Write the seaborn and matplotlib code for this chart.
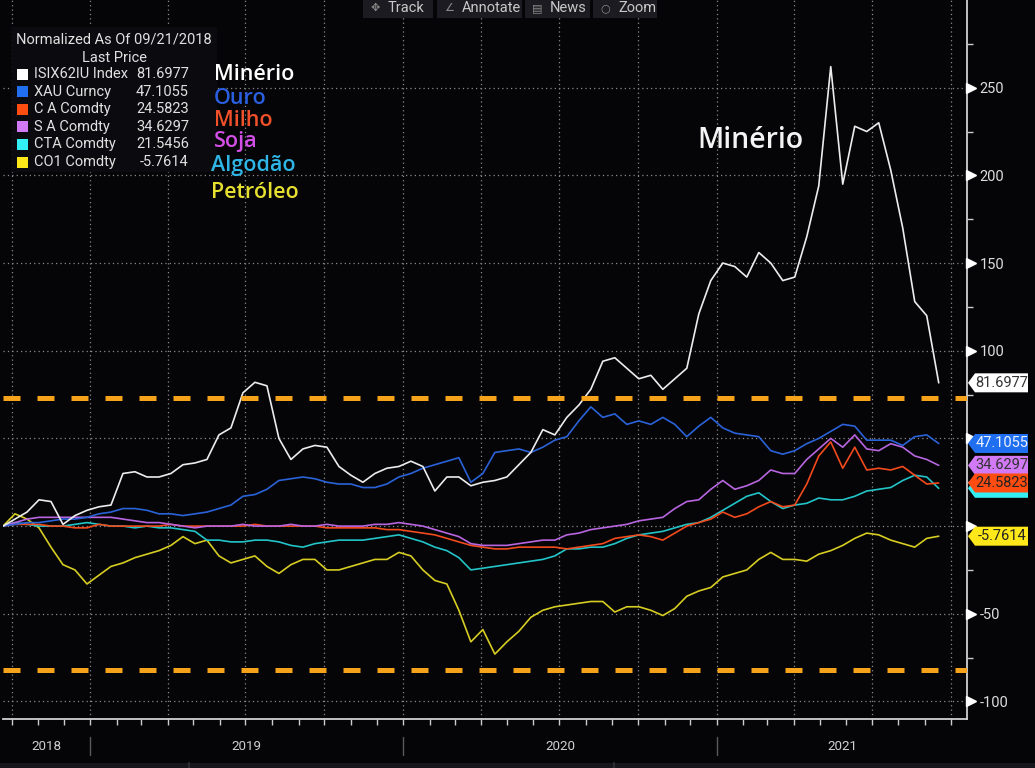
import matplotlib
matplotlib.use("Agg")
import matplotlib.pyplot as plt
import matplotlib.dates as mdates
from matplotlib import font_manager
from matplotlib.patches import Rectangle, Polygon
from matplotlib.lines import Line2D
from matplotlib.ticker import NullFormatter, FuncFormatter
import numpy as np
import pandas as pd
import seaborn as sns

# ---- data (normalized as of 09/21/2018, every 14 days) ----
dates = pd.date_range("2018-09-21", periods=79, freq="14D")

minerio = [0, 4, 8, 15, 14, 1, 6, 9, 11, 12,
           30, 31, 28, 28, 30, 35, 36, 38, 52, 56,
           76, 82, 80, 50, 38, 44, 46, 45, 34, 29,
           25, 30, 33, 34, 37, 34, 20, 28, 28, 23,
           25, 26, 28, 35, 42, 55, 52, 62, 69, 78,
           94, 96, 90, 84, 86, 78, 84, 90, 121, 140,
           150, 148, 142, 156, 150, 140, 142, 165, 194, 262,
           195, 228, 225, 230, 203, 170, 128, 120, 81.6977]
ouro = [0, 1, 2, 2, 3, 4, 4, 5, 7, 8,
        10, 10, 9, 7, 7, 6, 7, 8, 10, 12,
        17, 18, 21, 26, 27, 28, 27, 25, 24, 24,
        22, 22, 24, 28, 30, 33, 35, 37, 39, 25,
        30, 42, 43, 44, 42, 45, 49, 51, 60, 68,
        62, 64, 58, 60, 58, 62, 58, 51, 57, 62,
        56, 53, 52, 51, 43, 41, 43, 47, 50, 54,
        58, 57, 49, 49, 49, 46, 51, 52, 47.1055]
milho = [0, 1, 1, 1, 0, 0, -1, -1, 1, 0,
         0, 0, 0, 0, 1, 0, 0, 0, 0, 0,
         0, 1, 0, 0, 0, 0, 0, -1, -1, -1,
         -1, -1, -2, -2, -3, -4, -5, -7, -9, -11,
         -12, -13, -13, -12, -12, -12, -12, -13, -12, -11,
         -10, -7, -6, -5, -6, -8, -4, 0, 2, 4,
         8, 5, 7, 11, 14, 11, 12, 24, 40, 48,
         33, 45, 32, 33, 32, 34, 29, 24, 24.5823]
soja = [0, 2, 4, 5, 5, 5, 5, 5, 5, 5,
        4, 3, 2, 2, 1, 0, -1, 0, 0, 0,
        1, 0, 0, 0, 1, 0, 0, 1, 0, 0,
        0, 1, 1, 2, 1, 0, -2, -4, -6, -10,
        -11, -11, -11, -10, -9, -8, -8, -5, -4, -2,
        -1, 0, 1, 3, 4, 5, 10, 14, 15, 21,
        26, 21, 23, 26, 32, 30, 30, 38, 44, 50,
        45, 52, 44, 43, 47, 45, 40, 38, 34.6297]
algodao = [0, 2, 1, 0, 0, 0, 1, 2, 1, 0,
           0, -1, 0, -1, -1, -2, -3, -8, -8, -9,
           -9, -8, -8, -9, -11, -12, -10, -9, -8, -8,
           -8, -7, -6, -5, -7, -9, -12, -14, -18, -25,
           -24, -23, -22, -21, -20, -19, -17, -13, -13, -12,
           -12, -10, -7, -5, -4, -3, -1, 1, 2, 5,
           9, 13, 17, 19, 14, 10, 12, 13, 16, 15,
           15, 17, 20, 21, 22, 26, 29, 28, 21.5456]
petroleo = [0, 7, 4, -1, -12, -22, -25, -33, -28, -23,
            -21, -18, -16, -14, -11, -6, -10, -8, -17, -21,
            -19, -17, -23, -27, -22, -19, -19, -25, -25, -23,
            -21, -19, -19, -15, -17, -25, -31, -33, -48, -66,
            -59, -73, -66, -60, -52, -48, -46, -45, -44, -43,
            -43, -49, -46, -46, -48, -51, -47, -40, -37, -35,
            -29, -27, -25, -19, -15, -19, -19, -20, -16, -14,
            -11, -7, -4, -5, -8, -10, -12, -7, -5.7614]

tickers = ["ISIX62IU Index", "XAU Curncy", "C A Comdty", "S A Comdty", "CTA Comdty", "CO1 Comdty"]
last_price = ["81.6977", "47.1055", "24.5823", "34.6297", "21.5456", "-5.7614"]
nomes = ["Minério", "Ouro", "Milho", "Soja", "Algodão", "Petróleo"]
y_ticks = [-100, -50, 0, 50, 100, 150, 200, 250]
hidden_ticks = [0, 50]  # labels sit under the price tags
bandas = [73, -82]

line_colors = ["#ececec", "#2a62d8", "#f24a1c", "#b865e0", "#22c4c8", "#d6cc22"]
box_colors = ["#ffffff", "#1f6ff0", "#ff4d12", "#d27af5", "#33f0f5", "#ffe81a"]
name_colors = ["#ffffff", "#2a5fe0", "#f0502a", "#d24fe6", "#2fb6e6", "#e6e030"]
tag_text = ["#333333", "#eef3ff", "#222222", "#333333", None, "#222222"]

df = pd.DataFrame({"date": dates, tickers[0]: minerio, tickers[1]: ouro, tickers[2]: milho,
                   tickers[3]: soja, tickers[4]: algodao, tickers[5]: petroleo})
long = df.melt(id_vars="date", var_name="serie", value_name="valor")

# ---- style ----
W, H = 1035, 768
bg = "#050507"
sns.set_theme(style="dark", rc={"axes.facecolor": bg, "figure.facecolor": bg,
                                "savefig.facecolor": bg, "text.color": "#dddddd"})
installed = {f.name for f in font_manager.fontManager.ttflist}
narrow = "Liberation Sans Narrow" if "Liberation Sans Narrow" in installed else "Roboto"
k = 1.0 if narrow == "Liberation Sans Narrow" else 0.84
plt.rcParams["font.family"] = [narrow, "DejaVu Sans"]
brand = ["Open Sans", "DejaVu Sans"]


def fx(px):
    return px / W


def fy(py):
    return 1 - py / H


fig = plt.figure(figsize=(W / 100, H / 100), dpi=100)
ax = fig.add_axes([fx(3), fy(719), 964 / W, 719 / H])

order = [5, 4, 2, 3, 1, 0]  # white on top
sns.lineplot(data=long, x="date", y="valor", hue="serie",
             hue_order=[tickers[i] for i in order],
             palette={tickers[i]: line_colors[i] for i in range(6)},
             estimator=None, legend=False, linewidth=1.2, ax=ax)

for b in bandas:
    ax.axhline(b, color="#f7a21b", lw=3.6, dashes=(3.4, 3.4), zorder=4)

ax.set_xlim(pd.Timestamp("2018-09-21"), pd.Timestamp("2021-10-20"))
ax.set_ylim(-110, 300)
ax.set_xlabel("")
ax.set_ylabel("")

ax.xaxis.set_major_locator(mdates.MonthLocator(bymonth=[1, 4, 7, 10]))
ax.xaxis.set_minor_locator(mdates.MonthLocator())
ax.xaxis.set_major_formatter(NullFormatter())
ax.tick_params(axis="x", which="both", bottom=True, direction="out", length=4,
               color="#cccccc", width=1, labelbottom=False)

ax.yaxis.tick_right()
ax.set_yticks(y_ticks)
ax.set_yticks([v + 25 for v in range(-100, 300, 50)], minor=True)
ax.yaxis.set_major_formatter(FuncFormatter(lambda v, p: "" if v in hidden_ticks else f"{v:.0f}"))
ax.tick_params(axis="y", which="major", right=True, left=False, length=0, pad=9,
               labelsize=12.5 * k, labelcolor="#dddddd")
ax.tick_params(axis="y", which="minor", right=True, left=False, direction="out",
               length=4, color="#cccccc", width=1)

ax.grid(True, which="major", color="#8a8a8a", linestyle=(0, (1, 2.5)), linewidth=0.9)
ax.set_axisbelow(True)
for s in ["top", "left"]:
    ax.spines[s].set_visible(False)
for s in ["right", "bottom"]:
    ax.spines[s].set_visible(True)
    ax.spines[s].set_color("#d0d0d0")
    ax.spines[s].set_linewidth(1.3)

ax.plot(np.full(len(y_ticks), 1.0045), y_ticks, transform=ax.get_yaxis_transform(),
        marker=">", ms=6.5, color="white", ls="none", clip_on=False, zorder=6)

# ---- price tags on the right axis (cyan sits under the red one) ----
for i in [0, 1, 3, 4, 2, 5]:
    yc = ax.get_yaxis_transform().transform((1, float(last_price[i])))[1]
    pts = [(968, yc), (975, yc + 9.5), (1028, yc + 9.5), (1028, yc - 9.5), (975, yc - 9.5)]
    fig.add_artist(Polygon([(px / W, py / H) for px, py in pts], closed=True,
                           facecolor=box_colors[i], edgecolor="none", zorder=5))
    if tag_text[i]:
        fig.text(fx(1002), yc / H, last_price[i], color=tag_text[i], fontsize=12.5 * k,
                 ha="center", va="center", zorder=6)

# ---- legend box ----
fig.add_artist(Rectangle((fx(12), fy(172)), fx(217) - fx(12), fy(27) - fy(172),
                         facecolor="#0b0b0f", edgecolor="none", zorder=2))
fig.text(fx(114), fy(40), "Normalized As Of 09/21/2018", fontsize=12.5 * k,
         color="#e0e0e0", ha="center", va="center", zorder=3)
fig.text(fx(114), fy(58), "Last Price", fontsize=12.5 * k, color="#e0e0e0",
         ha="center", va="center", zorder=3)
for i in range(6):
    yy = 74 + i * 17.6
    fig.add_artist(Rectangle((fx(17), fy(yy + 5.5)), 11 / W, 11 / H,
                             facecolor=box_colors[i], edgecolor="none", zorder=3))
    fig.text(fx(34), fy(yy), tickers[i], fontsize=12.5 * k, color="#e0e0e0",
             ha="left", va="center", zorder=3)
    fig.text(fx(189), fy(yy), last_price[i], fontsize=12.5 * k, color="#e0e0e0",
             ha="right", va="center", zorder=3)

# ---- coloured names ----
name_pos = [(214, 74), (214, 98), (214, 121), (214, 142), (211, 165), (211, 193)]
for i, (px, py) in enumerate(name_pos):
    fig.text(fx(px), fy(py), nomes[i], color=name_colors[i], fontsize=15.5,
             family=brand, fontweight="semibold", ha="left", va="center")
fig.text(fx(697), fy(140), "Minério", color="#f4f4f4", fontsize=20.5,
         family=brand, fontweight="semibold", ha="left", va="center")

# ---- toolbar ----
tools = [("✥", "Track", 363, 433), ("∠", "Annotate", 437, 522),
         ("▤", "News", 525, 590), ("○", "Zoom", 593, 657)]
for icon, label, x0, x1 in tools:
    fig.add_artist(Rectangle((fx(x0), fy(18)), (x1 - x0) / W, 18 / H,
                             facecolor="#1b1b21", edgecolor="none", zorder=2))
    fig.text(fx(x0 + 12), fy(8), icon, fontsize=8, color="#8a8a8a",
             ha="center", va="center", family=["DejaVu Sans"], zorder=3)
    fig.text(fx(x0 + 25), fy(8), label, fontsize=12.5 * k, color="#c8c8c8",
             ha="left", va="center", zorder=3)

# ---- year strip below the axis ----
xmin, xmax = ax.get_xlim()
for yr in [2018, 2019, 2020, 2021]:
    a = max(mdates.date2num(pd.Timestamp(f"{yr}-01-01")), xmin)
    b = min(mdates.date2num(pd.Timestamp(f"{yr + 1}-01-01")), xmax)
    xc = ax.transData.transform(((a + b) / 2, 0))[0]
    fig.text(xc / W, fy(747), str(yr), fontsize=11.5 * k, color="#d0d0d0",
             ha="center", va="center")
    if yr > 2018:
        xs = ax.transData.transform((a, 0))[0] / W
        fig.add_artist(Line2D([xs, xs], [fy(737), fy(755)], color="#5a5a5a", lw=1))

fig.add_artist(Rectangle((0, 0), 1, 5 / H, facecolor="#16161c", edgecolor="none"))
for sx in [189, 614]:
    fig.add_artist(Line2D([fx(sx), fx(sx)], [0, 5 / H], color="#2c2c34", lw=1.5))

fig.savefig("out.png", dpi=100, facecolor=bg)
